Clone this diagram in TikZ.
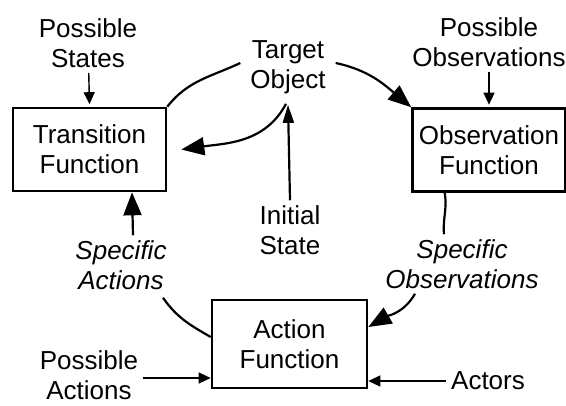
\documentclass[tikz,border=0pt]{standalone}
\usepackage{fontspec}
\setmainfont{Liberation Sans}
\usetikzlibrary{arrows.meta}

\begin{document}
\begin{tikzpicture}[
  fn/.style={rectangle, draw, line width=1.5pt, minimum width=3.06cm,
             minimum height=1.66cm, align=center},
  lbl/.style={align=center, inner sep=0.08cm},
  big/.style={-{Triangle[length=0.46cm, width=0.36cm]}},
  mid/.style={-{Triangle[length=0.36cm, width=0.22cm]}},
  small/.style={-{Triangle[length=0.24cm, width=0.22cm]}, line width=0.8pt},
  line width=1.25pt,
  font=\fontsize{14.8}{17.2}\selectfont
]
\useasboundingbox (0,0) rectangle (11.32,-8.1);

\node[fn] (trans) at (1.79,-2.99) {Transition\\Function};
\node[fn] (obs) at (9.78,-3.0) {Observation\\Function};
\node[fn, minimum width=3.1cm, minimum height=1.76cm] (act) at (5.79,-6.88)
  {Action\\Function};

\node[lbl] (states) at (1.76,-0.86) {Possible\\States};
\node[lbl] (target) at (5.76,-1.34) {Target\\Object};
\node[lbl] (posobs) at (9.78,-0.84) {Possible\\Observations};
\node[lbl] (initial) at (5.8,-4.6) {Initial\\State};
\node[lbl, font=\fontsize{14.8}{17.2}\selectfont\itshape] (specact) at (2.42,-5.3)
  {Specific\\Actions};
\node[lbl, font=\fontsize{14.8}{17.2}\selectfont\itshape] (specobs) at (9.24,-5.28)
  {Specific\\Observations};
\node[lbl] (posact) at (1.78,-7.5) {Possible\\Actions};
\node[lbl] (actors) at (9.76,-7.62) {Actors};

% inputs into the three functions
\draw[small] (states) -- ([yshift=0.05cm]trans.north);
\draw[small] (posobs) -- ([yshift=0.05cm]obs.north);
\draw[small] ([yshift=-0.06cm]posact.east) -- ([yshift=-0.06cm]posact.east -| act.west);
\draw[small] (actors.west) -- (actors.west -| act.east);

% the loop round the target object
\draw (trans.north east) to[out=52, in=205] ([xshift=-0.1cm, yshift=0.08cm]target.west);
\draw[big] ([xshift=0.1cm, yshift=0.08cm]target.east) to[out=-12, in=140] (obs.north west);
\draw (obs.224) to[out=-80, in=95] ([xshift=-0.36cm]specobs.north);
\draw[big] ([xshift=-0.94cm]specobs.south) to[out=-120, in=30] ([yshift=0.34cm]act.east);
\draw ([yshift=0.14cm]act.west) to[out=150, in=-55] ([xshift=0.84cm, yshift=-0.06cm]specact.south);
\draw[big] ([xshift=0.24cm]specact.north) -- ([xshift=0.85cm]trans.south);

% initial state and update of the transition function
\draw[mid] (initial.north) -- ([yshift=-0.12cm]target.south);
\draw[big] ([xshift=-0.04cm, yshift=-0.1cm]target.south) to[out=-118, in=8]
  ([xshift=0.28cm]trans.east);
\end{tikzpicture}
\end{document}
